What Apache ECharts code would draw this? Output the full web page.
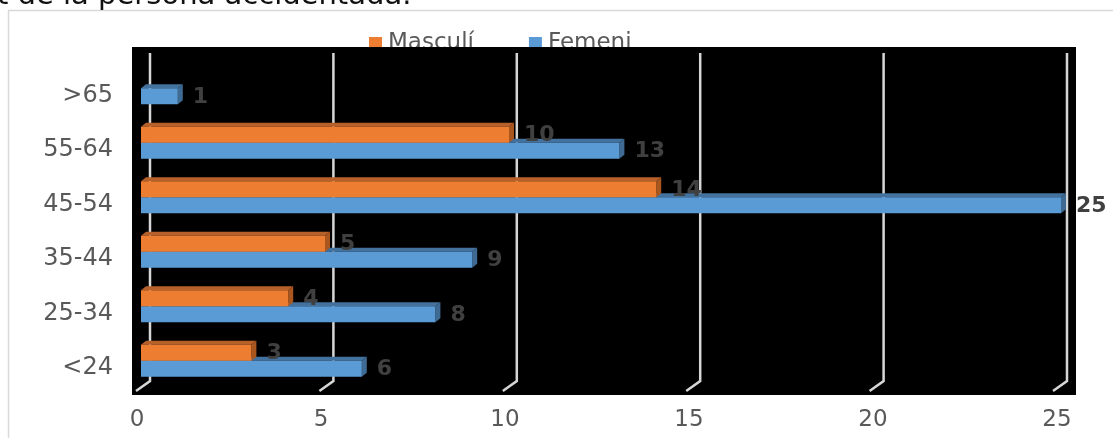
<!DOCTYPE html>
<html><head><meta charset="utf-8">
<script src="https://cdn.jsdelivr.net/npm/echarts@6/dist/echarts.min.js"></script>
<style>html,body{margin:0;padding:0;background:#fff}#c{width:1113px;height:438px}</style>
</head><body><div id="c"></div>
<script>
const categories = ['<24','25-34','35-44','45-54','55-64','>65'];
const masculi = [3,4,5,14,10,null];
const femeni = [6,8,9,25,13,1];
const xTicks = [0,5,10,15,20,25];
const seriesNames = ['Masculí','Femeni'];
const titleText = 't de la persona accidentada.';

const FONT = '"DejaVu Sans", Verdana, sans-serif';
const COLORS = {
  'Masculí': {front:'#ED7D31', top:'#B8602A', side:'#A9561F'},
  'Femeni': {front:'#5B9BD5', top:'#43729E', side:'#3E6A93'}
};
const BAR_H = 16, DX = 5, DY = 4;

function barRenderer(name, slot) {
  const c = COLORS[name];
  return function(params, api){
    const v = api.value(0);
    if (v == null || isNaN(v)) return;
    const cat = api.value(1);
    const start = api.coord([0, cat]);
    const end = api.coord([v, cat]);
    const y0 = start[1] + slot*BAR_H;
    const x0 = start[0], x1 = end[0];
    return {type:'group', children:[
      {type:'polygon', shape:{points:[[x0,y0],[x0+DX,y0-DY],[x1+DX,y0-DY],[x1,y0]]}, style:{fill:c.top}},
      {type:'polygon', shape:{points:[[x1,y0],[x1+DX,y0-DY],[x1+DX,y0+BAR_H-DY],[x1,y0+BAR_H]]}, style:{fill:c.side}},
      {type:'rect', shape:{x:x0,y:y0,width:x1-x0,height:BAR_H}, style:{fill:c.front}},
      {type:'text', z2:10, style:{text:String(v), x:x1+15, y:y0+BAR_H/2+1, fill:'#404040', font:'bold 22px '+FONT, verticalAlign:'middle', align:'left'}}
    ]};
  };
}

function gridRenderer(params, api){
  const v = api.value(0);
  const p = api.coord([v, 1]);
  const q = api.coord([v, 0]);
  return {type:'polyline', shape:{points:[p, q, [q[0]-14, q[1]+10]]},
    style:{stroke:'#d6d6d6', lineWidth:2.5, fill:null}};
}

const chart = echarts.init(document.getElementById('c'), null, {renderer:'canvas'});
chart.setOption({
  animation:false,
  backgroundColor:'#ffffff',
  textStyle:{fontFamily:FONT},
  graphic:[
    {type:'rect', z:0, shape:{x:8.5,y:10.5,width:1200,height:500}, style:{fill:'#fff', stroke:'#d9d9d9', lineWidth:1.5}},
    {type:'rect', z:2, shape:{x:132,y:47,width:944,height:348}, style:{fill:'#000'}},
    {type:'text', z:2, style:{text:titleText, x:-3, y:-4, fill:'#111', font:'29px '+FONT, verticalAlign:'middle', align:'left'}}
  ],
  legend:{
    z:1,
    data:seriesNames,
    left:369, top:32, padding:0,
    itemWidth:13, itemHeight:13, itemGap:55, icon:'rect',
    textStyle:{fontSize:23, color:'#595959', fontFamily:FONT, padding:[0,0,0,1]}
  },
  grid:[
    {left:141, width:920, top:61, height:327},
    {left:150, width:917, top:53, height:328}
  ],
  xAxis:[
    {gridIndex:0, type:'value', min:0, max:25, interval:5,
     axisLine:{show:false}, axisTick:{show:false}, splitLine:{show:false},
     axisLabel:{fontSize:23, color:'#595959', margin:21, padding:[0,8,0,0], fontFamily:FONT}},
    {gridIndex:1, type:'value', min:0, max:25, interval:5, show:false, splitLine:{show:false}}
  ],
  yAxis:[
    {gridIndex:0, type:'category', data:categories,
     axisLine:{show:false}, axisTick:{show:false}, splitLine:{show:false},
     axisLabel:{fontSize:24, color:'#595959', margin:28, verticalAlign:'top', lineHeight:15, fontFamily:FONT}},
    {gridIndex:1, type:'value', min:0, max:1, show:false, splitLine:{show:false}}
  ],
  series:[
    {type:'custom', name:'gridlines', xAxisIndex:1, yAxisIndex:1, z:3, silent:true,
     renderItem:gridRenderer, data:xTicks.map(v=>[v])},
    {type:'custom', name:seriesNames[1], xAxisIndex:0, yAxisIndex:0, z:4,
     itemStyle:{color:COLORS[seriesNames[1]].front},
     renderItem:barRenderer(seriesNames[1], 0),
     data:femeni.map((v,i)=>[v,i])},
    {type:'custom', name:seriesNames[0], xAxisIndex:0, yAxisIndex:0, z:5,
     itemStyle:{color:COLORS[seriesNames[0]].front},
     renderItem:barRenderer(seriesNames[0], -1),
     data:masculi.map((v,i)=>[v,i])}
  ]
});
</script></body></html>
